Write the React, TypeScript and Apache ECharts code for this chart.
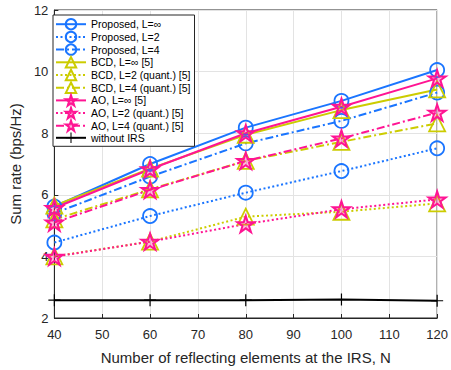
import React, { useEffect, useRef } from "react";
import * as echarts from "echarts";

const N = [40, 60, 80, 100, 120];
const propInf = [5.62, 7.0, 8.18, 9.05, 10.05];
const propL2 = [4.45, 5.31, 6.07, 6.77, 7.51];
const propL4 = [5.4, 6.59, 7.67, 8.4, 9.32];
const bcdInf = [5.65, 6.85, 7.95, 8.75, 9.42];
const bcdL2 = [4.0, 4.48, 5.29, 5.45, 5.72];
const bcdL4 = [5.2, 6.18, 7.1, 7.72, 8.32];
const aoInf = [5.57, 6.83, 8.0, 8.86, 9.78];
const aoL2 = [3.99, 4.48, 5.05, 5.53, 5.85];
const aoL4 = [5.1, 6.16, 7.1, 7.83, 8.67];
const noIrs = [2.58, 2.58, 2.58, 2.6, 2.56];

const BLUE = "#1a75ff";
const YEL = "#cccc00";
const PINK = "#ff1493";

const STAR = "path://M50,0 L61.2,34.5 L97.6,34.5 L68.2,55.9 L79.4,90.5 L50,69.1 L20.6,90.5 L31.8,55.9 L2.4,34.5 L38.8,34.5 Z";
const PLUS = "path://M45,0 L55,0 L55,45 L100,45 L100,55 L55,55 L55,100 L45,100 L45,55 L0,55 L0,45 L45,45 Z";

const SOLID = "solid";
const DOT: number[] = [2, 2.5];
const DASHDOT: number[] = [8, 3, 2, 3];

export default function App() {
  const ref = useRef<HTMLDivElement>(null);
  useEffect(() => {
    const chart = echarts.init(ref.current!, null, { renderer: "svg" });
    const mk = (name: string, data: number[], color: string, type: any, kind: string) => {
      let symbol = "circle";
      let symbolSize: number = 14;
      let itemStyle: any = { color: "rgba(0,0,0,0)", borderColor: color, borderWidth: 1.8 };
      if (kind === "tri") {
        symbol = "triangle";
        symbolSize = 16;
      } else if (kind === "star") {
        symbol = STAR;
        symbolSize = 17;
        itemStyle = { color: "rgba(255,20,147,0.3)", borderColor: color, borderWidth: 2 };
      } else if (kind === "plus") {
        symbol = PLUS;
        symbolSize = 12;
        itemStyle = { color: color, borderWidth: 0 };
      }
      return {
        name,
        type: "line",
        data: N.map((x, i) => [x, data[i]]),
        symbol,
        symbolSize,
        symbolKeepAspect: true,
        showAllSymbol: true,
        lineStyle: { color, width: 2, type },
        itemStyle,
        emphasis: { disabled: true },
      };
    };
    const series = [
      mk("Proposed, L=∞", propInf, BLUE, SOLID, "circ"),
      mk("Proposed, L=2", propL2, BLUE, DOT, "circ"),
      mk("Proposed, L=4", propL4, BLUE, DASHDOT, "circ"),
      mk("BCD, L=∞ [5]", bcdInf, YEL, SOLID, "tri"),
      mk("BCD, L=2 (quant.) [5]", bcdL2, YEL, DOT, "tri"),
      mk("BCD, L=4 (quant.) [5]", bcdL4, YEL, DASHDOT, "tri"),
      mk("AO, L=∞ [5]", aoInf, PINK, SOLID, "star"),
      mk("AO, L=2 (quant.) [5]", aoL2, PINK, DOT, "star"),
      mk("AO, L=4 (quant.) [5]", aoL4, PINK, DASHDOT, "star"),
      mk("without IRS", noIrs, "#000000", SOLID, "plus"),
    ];
    const axisCommon = {
      axisLine: { show: true, lineStyle: { color: "#262626", width: 1 } },
      axisTick: { show: true, inside: true, length: 4, lineStyle: { color: "#262626" } },
      splitLine: { show: true, lineStyle: { color: "#e3e3e3", width: 1 } },
      axisLabel: { color: "#262626", fontSize: 13, fontFamily: "Liberation Sans, Arial, sans-serif" },
      nameTextStyle: { color: "#262626", fontSize: 15, fontFamily: "Liberation Sans, Arial, sans-serif" },
    };
    chart.setOption({
      animation: false,
      backgroundColor: "#ffffff",
      grid: { left: 49, right: 10, top: 10, bottom: 51, show: true, borderColor: "#262626", borderWidth: 1, backgroundColor: "transparent" },
      xAxis: {
        type: "value",
        min: 40,
        max: 120,
        interval: 10,
        name: "Number of reflecting elements at the IRS, N",
        nameLocation: "middle",
        nameGap: 32,
        ...axisCommon,
        axisLabel: { ...axisCommon.axisLabel, margin: 10 },
      },
      yAxis: {
        type: "value",
        min: 2,
        max: 12,
        interval: 2,
        name: "Sum rate (bps/Hz)",
        nameLocation: "middle",
        nameGap: 25,
        ...axisCommon,
        axisLabel: { ...axisCommon.axisLabel, margin: 6 },
      },
      legend: {
        orient: "vertical",
        left: 53,
        top: 15,
        itemWidth: 30,
        itemHeight: 13,
        itemGap: 0.3,
        padding: [3, 4, 3, 2],
        backgroundColor: "#ffffff",
        borderColor: "#262626",
        borderWidth: 1,
        borderRadius: 0,
        textStyle: { color: "#000", fontSize: 10.5, fontFamily: "Liberation Sans, Arial, sans-serif" },
        selectedMode: false,
      },
      series,
    });
    return () => chart.dispose();
  }, []);
  return <div ref={ref} style={{ width: 451, height: 370, position: "absolute", left: 0, top: 0 }} />;
}
